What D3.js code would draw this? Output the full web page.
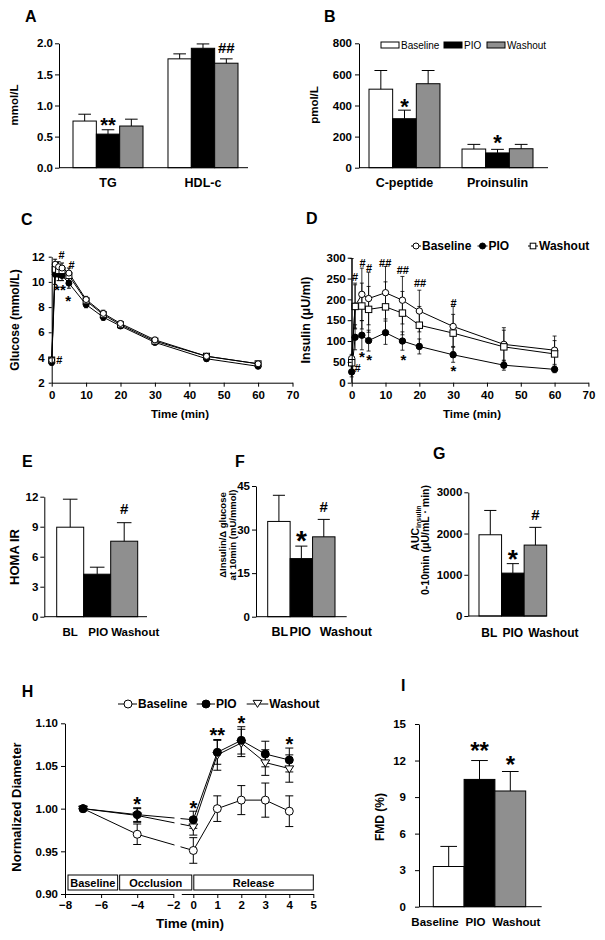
<!DOCTYPE html>
<html><head><meta charset="utf-8">
<script src="https://cdn.jsdelivr.net/npm/d3@7"></script>
<style>
body{margin:0;background:#fff}
text{font-family:"Liberation Sans",Arial,Helvetica,sans-serif;font-weight:bold;fill:#000}
</style></head>
<body><svg id="chart" width="605" height="940"></svg>
<script>
// ---------------- DATA ----------------
const seriesNames = ["Baseline", "PIO", "Washout"];

// Panel A
const aCategories = ["TG", "HDL-c"];
const aBaseline = [0.75, 1.75], aBaselineErr = [0.11, 0.08];
const aPIO = [0.54, 1.92], aPIOErr = [0.07, 0.07];
const aWashout = [0.67, 1.68], aWashoutErr = [0.11, 0.07];
const aTicks = [0, 0.5, 1.0, 1.5, 2.0];

// Panel B
const bCategories = ["C-peptide", "Proinsulin"];
const bBaseline = [505, 120], bBaselineErr = [120, 30];
const bPIO = [315, 95], bPIOErr = [55, 23];
const bWashout = [540, 122], bWashoutErr = [85, 28];
const bTicks = [0, 200, 400, 600, 800];

// Panel C (glucose)
const cTimes = [0, 1, 2, 3, 5, 10, 15, 20, 30, 45, 60];
const cBaseline = [3.8, 11.4, 11.2, 11.1, 10.7, 8.6, 7.5, 6.7, 5.4, 4.1, 3.5];
const cBaselineErr = [0.2, 0.4, 0.4, 0.4, 0.4, 0.25, 0.25, 0.2, 0.2, 0.2, 0.15];
const cPIO = [3.6, 10.6, 10.6, 10.5, 9.9, 8.2, 7.2, 6.5, 5.2, 3.9, 3.3];
const cPIOErr = [0.2, 0.8, 0.5, 0.4, 0.4, 0.25, 0.25, 0.2, 0.2, 0.2, 0.15];
const cWashout = [3.8, 11.0, 10.9, 10.9, 10.5, 8.5, 7.4, 6.6, 5.3, 4.1, 3.5];
const cWashoutErr = [0.2, 0.4, 0.4, 0.4, 0.4, 0.25, 0.25, 0.2, 0.2, 0.2, 0.15];
const cXTicks = [0, 10, 20, 30, 40, 50, 60, 70];
const cYTicks = [2, 4, 6, 8, 10, 12];

// Panel D (insulin)
const dTimes = [0, 1, 3, 5, 10, 15, 20, 30, 45, 60];
const dBaseline = [58, 184, 212, 202, 216, 198, 172, 135, 92, 78];
const dBaselineErr = [240, 55, 63, 63, 63, 57, 50, 48, 40, 34];
const dPIO = [26, 109, 114, 101, 120, 100, 87, 67, 42, 32];
const dPIOErr = [12, 30, 35, 25, 28, 22, 18, 18, 12, 8];
const dWashout = [48, 183, 184, 176, 182, 167, 138, 119, 86, 69];
const dWashoutErr = [20, 52, 55, 55, 60, 52, 45, 45, 40, 32];
const dXTicks = [0, 10, 20, 30, 40, 50, 60, 70];
const dYTicks = [0, 50, 100, 150, 200, 250, 300];

// Panels E, F, G
const efgCategories = ["BL", "PIO", "Washout"];
const eValues = [8.95, 4.25, 7.55], eErr = [2.8, 0.7, 1.85], eTicks = [0, 3, 6, 9, 12];
const fValues = [32.8, 20.0, 27.5], fErr = [9.0, 4.3, 6.0], fTicks = [0, 15, 30, 45];
const gValues = [1970, 1040, 1720], gErr = [590, 230, 430], gTicks = [0, 1000, 2000, 3000];

// Panel H (normalized diameter)
const hTimes = [-7, -4, 0, 1, 2, 3, 4];
const hBaseline = [1.000, 0.970, 0.951, 1.000, 1.010, 1.010, 0.997];
const hBaselineErr = [0, 0.012, 0.015, 0.015, 0.017, 0.020, 0.018];
const hPIO = [1.000, 0.993, 0.987, 1.066, 1.080, 1.064, 1.057];
const hPIOErr = [0, 0.008, 0.010, 0.014, 0.016, 0.015, 0.014];
const hWashout = [1.000, 0.992, 0.979, 1.063, 1.077, 1.054, 1.047];
const hWashoutErr = [0, 0.008, 0.010, 0.018, 0.016, 0.015, 0.016];
const hXTicksLeft = [-8, -6, -4, -2];
const hXTicksRight = [0, 1, 2, 3, 4, 5];
const hYTicks = [0.90, 0.95, 1.00, 1.05, 1.10];
const hPhases = ["Baseline", "Occlusion", "Release"];
const hPhaseStart = [-8, -5, 0];
const hPhaseEnd = [-5, 0, 5];

// Panel I (FMD)
const iCategories = ["Baseline", "PIO", "Washout"];
const iValues = [3.3, 10.45, 9.5], iErr = [1.65, 1.55, 1.6];
const iTicks = [0, 3, 6, 9, 12, 15];

// ---------------- HELPERS ----------------
const FILL = {Baseline: "#ffffff", PIO: "#000000", Washout: "#8f8f8f"};
const svg = d3.select("#chart");
svg.append("rect").attr("width", 605).attr("height", 940).attr("fill", "#fff");

function txt(x, y, s, size, o = {}) {
  const t = svg.append("text").attr("x", x).attr("y", y).attr("font-size", size).text(s)
    .attr("text-anchor", o.anchor || "start");
  if (o.rot) t.attr("transform", `rotate(-90,${x},${y})`);
  if (o.normal) t.style("font-weight", "normal");
  return t;
}
function sig(x, y, s, size) {
  const off = s.indexOf("*") >= 0 ? 0.55 : 0.36;
  txt(x, y + off * size, s, size, {anchor: "middle"});
}
function styleAxis(a, size) {
  a.attr("font-family", null).attr("font-size", size);
  a.selectAll("line,path").attr("stroke", "#000").attr("stroke-width", 1);
}
function leftAxis(x, y, ticks, fmt, size, tl = 4, pad = 2) {
  const a = svg.append("g").attr("transform", `translate(${x},0)`)
    .call(d3.axisLeft(y).tickValues(ticks).tickFormat(fmt).tickSize(tl).tickSizeOuter(0).tickPadding(pad));
  styleAxis(a, size);
  return a;
}
function bottomAxis(yPos, x, ticks, fmt, size, tl = 4, pad = 2) {
  const a = svg.append("g").attr("transform", `translate(0,${yPos})`)
    .call(d3.axisBottom(x).tickValues(ticks).tickFormat(fmt).tickSize(tl).tickSizeOuter(0).tickPadding(pad));
  styleAxis(a, size);
  return a;
}
function line(x1, y1, x2, y2, w = 1) {
  svg.append("line").attr("x1", x1).attr("y1", y1).attr("x2", x2).attr("y2", y2)
    .attr("stroke", "#000").attr("stroke-width", w);
}
function bar(x, w, y, v, e, fill) {
  svg.append("rect").attr("x", x).attr("y", y(v)).attr("width", w).attr("height", y(0) - y(v))
    .attr("fill", fill).attr("stroke", "#000").attr("stroke-width", 1);
  const cx = x + w / 2, cw = w * 0.27;
  line(cx, y(v), cx, y(v + e));
  line(cx - cw, y(v + e), cx + cw, y(v + e));
}
function marker(type, cx, cy, s) {
  if (type === "circleOpen" || type === "circleFilled") {
    svg.append("circle").attr("cx", cx).attr("cy", cy).attr("r", s)
      .attr("fill", type === "circleOpen" ? "#fff" : "#000").attr("stroke", "#000").attr("stroke-width", 1);
  } else if (type === "square") {
    svg.append("rect").attr("x", cx - s).attr("y", cy - s).attr("width", 2 * s).attr("height", 2 * s)
      .attr("fill", "#fff").attr("stroke", "#000").attr("stroke-width", 1);
  } else if (type === "triDown") {
    const h = s * 1.1;
    svg.append("path").attr("d", `M${cx - s * 1.1},${cy - h * 0.6}L${cx + s * 1.1},${cy - h * 0.6}L${cx},${cy + h}Z`)
      .attr("fill", "#fff").attr("stroke", "#000").attr("stroke-width", 1);
  }
}

// grouped bar panel (A, B)
function groupedBars(cfg) {
  const y = d3.scaleLinear().domain(cfg.domain).range([cfg.yBottom, cfg.yTop]);
  const x0 = d3.scaleBand().domain(cfg.categories).range(cfg.groupRange).paddingInner(cfg.pad);
  const x1 = d3.scaleBand().domain(seriesNames).range([0, x0.bandwidth()]);
  cfg.series.forEach((s, si) => {
    cfg.categories.forEach((c, ci) => {
      bar(x0(c) + x1(seriesNames[si]), x1.bandwidth(), y, s.values[ci], s.errs[ci], FILL[seriesNames[si]]);
    });
  });
  leftAxis(cfg.axisX, y, cfg.ticks, cfg.fmt, cfg.tickSize, 4, cfg.tickPad);
  line(cfg.axisX, cfg.yBottom, cfg.axisEnd, cfg.yBottom);
  cfg.categories.forEach(c => txt(x0(c) + x0.bandwidth() / 2, cfg.catY, c, cfg.catSize, {anchor: "middle"}));
  return {y, x0, x1};
}
// single group bar panel (E, F, G, I)
function simpleBars(cfg) {
  const y = d3.scaleLinear().domain(cfg.domain).range([cfg.yBottom, cfg.yTop]);
  const x = d3.scaleBand().domain(cfg.categories).range(cfg.range);
  cfg.categories.forEach((c, i) => bar(x(c), x.bandwidth(), y, cfg.values[i], cfg.errs[i], FILL[seriesNames[i]]));
  leftAxis(cfg.axisX, y, cfg.ticks, cfg.fmt, cfg.tickSize, 4, cfg.tickPad);
  line(cfg.axisX, cfg.yBottom, cfg.axisEnd, cfg.yBottom);
  cfg.categories.forEach((c, i) => txt(x(c) + x.bandwidth() / 2 + cfg.labelShift[i], cfg.catY, c, cfg.catSize, {anchor: "middle"}));
  return {y, x};
}
// line panel (C, D, H)
function linePanel(cfg) {
  const gen = d3.line().x((d, i) => cfg.x(cfg.times[i])).y(d => cfg.y(d));
  const yMin = d3.min(cfg.y.domain());
  cfg.series.forEach(s => svg.append("path").attr("d", gen(s.values)).attr("fill", "none")
    .attr("stroke", "#000").attr("stroke-width", 1));
  if (cfg.after) cfg.after();
  cfg.series.forEach(s => s.values.forEach((v, i) => {
    const e = s.errs[i];
    if (!e) return;
    const cx = cfg.x(cfg.times[i]);
    const lo = Math.max(v - e, yMin);
    line(cx, cfg.y(lo), cx, cfg.y(v + e), cfg.errW);
    line(cx - cfg.cap, cfg.y(v + e), cx + cfg.cap, cfg.y(v + e), cfg.errW);
    if (lo > yMin) line(cx - cfg.cap, cfg.y(lo), cx + cfg.cap, cfg.y(lo), cfg.errW);
  }));
  cfg.series.forEach(s => s.values.forEach((v, i) => marker(s.marker, cfg.x(cfg.times[i]), cfg.y(v), cfg.r)));
}

// ---------------- PANEL A ----------------
txt(25, 22, "A", 16);
const A = groupedBars({
  domain: [0, 2], yTop: 43.3, yBottom: 167.7, axisX: 59, axisEnd: 248,
  groupRange: [73, 238], pad: 0.263, categories: aCategories,
  series: [{values: aBaseline, errs: aBaselineErr}, {values: aPIO, errs: aPIOErr}, {values: aWashout, errs: aWashoutErr}],
  ticks: aTicks, fmt: d3.format(".1f"), tickSize: 11.5, tickPad: 2, catY: 187, catSize: 12.5
});
txt(18, 105, "mmol/L", 11.5, {anchor: "middle", rot: true});
sig(A.x0("TG") + A.x1("PIO") + A.x1.bandwidth() / 2, A.y(0.756), "**", 20);
sig(A.x0("HDL-c") + A.x1("Washout") + A.x1.bandwidth() / 2, A.y(1.93), "##", 15);

// ---------------- PANEL B ----------------
txt(324, 22, "B", 16);
const B = groupedBars({
  domain: [0, 800], yTop: 43.3, yBottom: 167.7, axisX: 359, axisEnd: 548,
  groupRange: [369, 533], pad: 0.237, categories: bCategories,
  series: [{values: bBaseline, errs: bBaselineErr}, {values: bPIO, errs: bPIOErr}, {values: bWashout, errs: bWashoutErr}],
  ticks: bTicks, fmt: d3.format("d"), tickSize: 11.5, tickPad: 3, catY: 187, catSize: 12.5
});
txt(318, 105, "pmol/L", 11.5, {anchor: "middle", rot: true});
sig(B.x0("C-peptide") + B.x1("PIO") + B.x1.bandwidth() / 2, B.y(424), "*", 22);
sig(B.x0("Proinsulin") + B.x1("PIO") + B.x1.bandwidth() / 2, B.y(193), "*", 22);
// legend B
[[381, "Baseline"], [444, "PIO"], [487, "Washout"]].forEach(([lx, name]) => {
  svg.append("rect").attr("x", lx).attr("y", 42).attr("width", 18).attr("height", 6)
    .attr("fill", FILL[name]).attr("stroke", "#000").attr("stroke-width", 1);
  txt(lx + 20, 48.5, name, 10, {normal: true});
});

// ---------------- PANEL C ----------------
txt(21, 225, "C", 16);
{
  const x = d3.scaleLinear().domain([0, 70]).range([51.7, 292.5]);
  const y = d3.scaleLinear().domain([2, 12]).range([382.7, 256.7]);
  linePanel({
    x, y, times: cTimes, cap: 2, r: 3, errW: 1,
    series: [
      {values: cPIO, errs: cPIOErr, marker: "circleFilled"},
      {values: cWashout, errs: cWashoutErr, marker: "square"},
      {values: cBaseline, errs: cBaselineErr, marker: "circleOpen"}
    ]
  });
  leftAxis(51.7, y, cYTicks, d3.format("d"), 11.5, 3, 4);
  bottomAxis(382.7, x, cXTicks, d3.format("d"), 11.5, 4, 4);
  txt(19, 320, "Glucose (mmol/L)", 12, {anchor: "middle", rot: true});
  txt(180, 418, "Time (min)", 11.5, {anchor: "middle"});
  sig(x(2.9), y(12.13), "#", 11);
  sig(x(5.8), y(11.34), "#", 11);
  sig(x(2.4), y(9.62), "**", 15);
  sig(x(4.8), y(8.75), "*", 15);
  sig(x(2.2), y(3.8), "#", 11);
}

// ---------------- PANEL D ----------------
txt(306, 223.5, "D", 16);
{
  const x = d3.scaleLinear().domain([0, 70]).range([351.7, 588.4]);
  const y = d3.scaleLinear().domain([0, 300]).range([382.7, 257.7]);
  linePanel({
    x, y, times: dTimes, cap: 2, r: 3.2, errW: 0.8,
    series: [
      {values: dBaseline, errs: dBaselineErr, marker: "circleOpen"},
      {values: dWashout, errs: dWashoutErr, marker: "square"},
      {values: dPIO, errs: dPIOErr, marker: "circleFilled"}
    ]
  });
  leftAxis(351.7, y, dYTicks, d3.format("d"), 11.5, 4, 2);
  bottomAxis(382.7, x, dXTicks, d3.format("d"), 11.5, 4, 4);
  txt(310, 320, "Insulin (μU/ml)", 12.5, {anchor: "middle", rot: true});
  txt(472, 418, "Time (min)", 11.5, {anchor: "middle"});
  [[1.0, 253, "#"], [3.2, 286, "#"], [5.1, 274, "#"], [9.9, 288, "##"], [15.1, 270, "##"],
   [20.2, 240, "##"], [30.1, 190, "#"], [1.7, 35, "#"]].forEach(([t, v, s]) => sig(x(t), y(v), s, 11));
  [[3.0, 70], [5.2, 62], [15.3, 62], [30.1, 36]].forEach(([t, v]) => sig(x(t), y(v), "*", 15));
  // legend D
  [[416, "circleOpen", "Baseline"], [482.5, "circleFilled", "PIO"], [533, "square", "Washout"]].forEach(([lx, m, name]) => {
    line(lx - 5, 246, lx + 5, 246);
    marker(m, lx, 246, m === "square" ? 2.8 : 3);
    txt(lx + 6, 250.2, name, 12);
  });
}

// ---------------- PANEL E ----------------
txt(22, 467, "E", 16);
{
  const E = simpleBars({
    domain: [0, 12], yTop: 496.7, yBottom: 616.7, axisX: 44.3, axisEnd: 147,
    range: [56.7, 137.7], categories: efgCategories, values: eValues, errs: eErr,
    ticks: eTicks, fmt: d3.format("d"), tickSize: 11.5, tickPad: 2, catY: 636, catSize: 11.5,
    labelShift: [0, 1, 11]
  });
  txt(19, 557, "HOMA IR", 13, {anchor: "middle", rot: true});
  sig(E.x("Washout") + E.x.bandwidth() / 2, E.y(10.84), "#", 15);
}

// ---------------- PANEL F ----------------
txt(235, 466.7, "F", 16);
{
  const F = simpleBars({
    domain: [0, 45], yTop: 486, yBottom: 616.7, axisX: 256, axisEnd: 346.7,
    range: [267.7, 335], categories: efgCategories, values: fValues, errs: fErr,
    ticks: fTicks, fmt: d3.format("d"), tickSize: 11.5, tickPad: 2, catY: 636, catSize: 12.5,
    labelShift: [1, -1, 22]
  });
  txt(226, 535, "ΔInsulin/Δ glucose", 9.5, {anchor: "middle", rot: true});
  txt(236, 535, "at 10min (mU/mmol)", 9.5, {anchor: "middle", rot: true});
  sig(F.x("PIO") + F.x.bandwidth() / 2, F.y(28.1), "*", 28);
  sig(F.x("Washout") + F.x.bandwidth() / 2, F.y(37.9), "#", 15);
}

// ---------------- PANEL G ----------------
txt(433, 459.3, "G", 16);
{
  const G = simpleBars({
    domain: [0, 3000], yTop: 492.3, yBottom: 616, axisX: 468.3, axisEnd: 546.7,
    range: [479, 546.7], categories: efgCategories, values: gValues, errs: gErr,
    ticks: gTicks, fmt: d3.format("d"), tickSize: 11.5, tickPad: 2, catY: 637, catSize: 12,
    labelShift: [-1, 0, 18]
  });
  const t1 = txt(419, 528, "AUC", 10.5, {anchor: "middle", rot: true});
  t1.append("tspan").attr("font-size", 7).attr("dy", 2).text("insulin");
  txt(429, 540, "0-10min (μU/mL · min)", 10.5, {anchor: "middle", rot: true});
  sig(G.x("PIO") + G.x.bandwidth() / 2, G.y(1521), "*", 26);
  sig(G.x("Washout") + G.x.bandwidth() / 2, G.y(2450), "#", 15);
}

// ---------------- PANEL H ----------------
txt(21.7, 697, "H", 16);
{
  const xL = d3.scaleLinear().domain([-8, -2]).range([65, 173.3]);
  const xR = d3.scaleLinear().domain([-0.5, 5]).range([181.3, 313.3]);
  const x = t => (t <= -2 ? xL(t) : xR(t));
  const y = d3.scaleLinear().domain([0.90, 1.10]).range([894, 723.3]);
  linePanel({
    x, y, times: hTimes, cap: 4, r: 4, errW: 1,
    series: [
      {values: hBaseline, errs: hBaselineErr, marker: "circleOpen"},
      {values: hWashout, errs: hWashoutErr, marker: "triDown"},
      {values: hPIO, errs: hPIOErr, marker: "circleFilled"}
    ],
    after: () => svg.append("rect").attr("x", 174.5).attr("y", 740).attr("width", 6).attr("height", 130).attr("fill", "#fff")
  });
  leftAxis(65, y, hYTicks, d3.format(".2f"), 11.5, 4, 3);
  bottomAxis(894, xL, hXTicksLeft, d3.format("d"), 11.5, 4, 3);
  bottomAxis(894, xR, hXTicksRight, d3.format("d"), 11.5, 4, 3);
  // phase boxes
  hPhases.forEach((p, i) => {
    const x1 = x(hPhaseStart[i]) + (i === 0 ? 3 : 0.5);
    const x2 = x(hPhaseEnd[i]) - (i === 2 ? 0 : 1.5);
    svg.append("rect").attr("x", x1).attr("y", 875).attr("width", x2 - x1).attr("height", 15)
      .attr("fill", "#fff").attr("stroke", "#000").attr("stroke-width", 1);
    txt((x1 + x2) / 2, 886.5, p, 11, {anchor: "middle"});
  });
  txt(21, 807, "Normalized Diameter", 13, {anchor: "middle", rot: true});
  txt(190, 928, "Time (min)", 13.5, {anchor: "middle"});
  [[-4, 1.0101, "*"], [0, 1.0054, "*"], [1, 1.0913, "**"], [2, 1.1047, "*"], [4, 1.0804, "*"]]
    .forEach(([t, v, s]) => sig(x(t), y(v), s, 20));
  // legend H
  [[128, "circleOpen", "Baseline", 118, 137], [206, "circleFilled", "PIO", 196.7, 215], [257.5, "triDown", "Washout", 246.7, 268.3]]
    .forEach(([lx, m, name, a, b]) => {
      line(a, 704, b, 704);
      marker(m, lx, m === "triDown" ? 703 : 704, 4);
      txt(b + 1, 708.3, name, 12);
    });
}

// ---------------- PANEL I ----------------
txt(401, 690.7, "I", 16);
{
  const I = simpleBars({
    domain: [0, 15], yTop: 724, yBottom: 906.7, axisX: 419, axisEnd: 541.7,
    range: [433.3, 525.7], categories: iCategories, values: iValues, errs: iErr,
    ticks: iTicks, fmt: d3.format("d"), tickSize: 11.5, tickPad: 9, catY: 926, catSize: 11.5,
    labelShift: [-13.7, -4, 6]
  });
  txt(384, 817, "FMD (%)", 12, {anchor: "middle", rot: true});
  sig(I.x("PIO") + I.x.bandwidth() / 2, I.y(13.2), "**", 24);
  sig(I.x("Washout") + I.x.bandwidth() / 2, I.y(12.1), "*", 24);
}
</script></body></html>
